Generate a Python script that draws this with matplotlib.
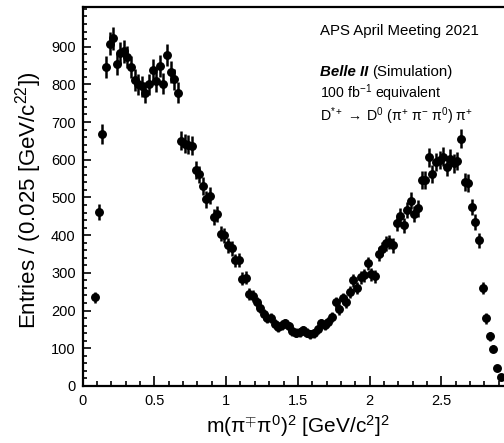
import numpy as np
import matplotlib
matplotlib.use("Agg")
import matplotlib.pyplot as plt

plt.rcParams['font.family'] = ['Liberation Sans', 'DejaVu Sans']
plt.rcParams['mathtext.fontset'] = 'custom'
plt.rcParams['mathtext.rm'] = 'Liberation Sans'
plt.rcParams['mathtext.it'] = 'Liberation Sans:italic'
plt.rcParams['mathtext.bf'] = 'Liberation Sans:bold'

# Histogram: first filled bin starts at 0.075, bin width 0.025
bin_start = 0.075
bin_width = 0.025
counts = [
    235, 462, 668, 845, 908, 922, 855, 883, 887, 872,
    846, 811, 800, 795, 778, 800, 838, 808, 848, 802,
    878, 832, 813, 778, 650, 643, 640, 637, 572, 561,
    530, 495, 504, 448, 455, 404, 400, 373, 365, 333,
    335, 285, 287, 243, 238, 222, 208, 190, 180, 180,
    165, 157, 161, 166, 158, 145, 141, 143, 148, 141,
    137, 140, 150, 166, 162, 170, 183, 222, 203, 232,
    223, 250, 280, 260, 288, 294, 325, 296, 291, 351,
    364, 378, 382, 373, 431, 450, 426, 466, 491, 457,
    471, 546, 546, 606, 563, 594, 599, 608, 581, 603,
    590, 597, 656, 541, 538, 475, 435, 386, 260, 179,
    132, 99, 49, 24,
]
x_ticks = [0, 0.5, 1, 1.5, 2, 2.5]
x_ticklabels = ["0", "0.5", "1", "1.5", "2", "2.5"]
y_ticks = [0, 100, 200, 300, 400, 500, 600, 700, 800, 900]

counts = np.array(counts, dtype=float)
centers = bin_start + bin_width * (np.arange(len(counts)) + 0.5)
errors = np.sqrt(counts)

fig = plt.figure(figsize=(5.04, 4.43), dpi=100)
ax = fig.add_axes([0.164, 0.1287, 0.854, 0.8555])

ax.errorbar(centers, counts, yerr=errors, fmt='o', color='black',
            ms=5.4, elinewidth=1.8, capsize=0, mec='black')

ax.set_xlim(0, 3.0)
ax.set_ylim(0, 1005)
ax.set_xticks(x_ticks)
ax.set_xticklabels(x_ticklabels)
ax.set_yticks(y_ticks)
ax.set_xticks(np.arange(0, 3.01, 0.1), minor=True)
ax.set_yticks(np.arange(0, 1001, 20), minor=True)

ax.tick_params(axis='both', which='both', direction='in', top=False, right=False,
               labelsize=10.5, width=1.2, colors='black')
ax.tick_params(axis='x', which='major', length=7, pad=6)
ax.tick_params(axis='x', which='minor', length=3.5)
ax.tick_params(axis='y', which='major', length=6, pad=5)
ax.tick_params(axis='y', which='minor', length=3)

for s in ax.spines.values():
    s.set_linewidth(1.6)

ax.set_xlabel(r"m($\mathrm{\pi}^{\mp}\mathrm{\pi}^{0}$)$^{2}$ [GeV/c$^{2}$]$^{2}$", fontsize=15)
ax.xaxis.set_label_coords(0.5, -0.072)
ax.set_ylabel(r"Entries / (0.025 [GeV/c$^{22}$])", fontsize=16)
ax.yaxis.set_label_coords(-0.09, 0.49)

tx = 320 / 504
fs = 10.8
fig.text(tx, 1 - 35 / 443, "APS April Meeting 2021", fontsize=fs, ha='left', va='baseline')
fig.text(tx, 1 - 76 / 443, "Belle II", fontsize=fs, ha='left', va='baseline',
         fontweight='bold', fontstyle='italic')
fig.text(tx + 52 / 504, 1 - 76 / 443, "(Simulation)", fontsize=fs, ha='left', va='baseline')
fig.text(tx, 1 - 98 / 443, r"100 fb$^{-1}$ equivalent", fontsize=10.2, ha='left', va='baseline')
fig.text(tx, 1 - 121 / 443,
         r"D$^{*+}\,\rightarrow\,$D$^{0}$ (π$^{+}$ π$^{-}$ π$^{0}$) π$^{+}$",
         fontsize=10.2, ha='left', va='baseline')

fig.savefig("out.png", dpi=100)
